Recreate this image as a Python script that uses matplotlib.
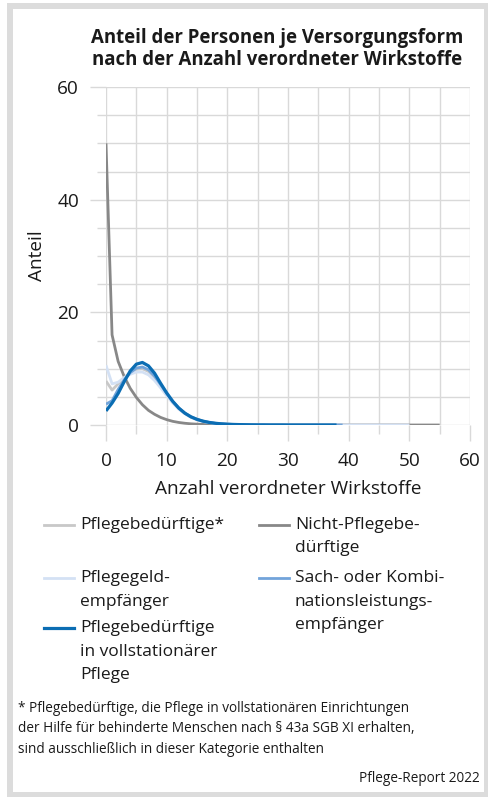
import matplotlib
matplotlib.use("Agg")
import matplotlib.pyplot as plt
from matplotlib.lines import Line2D
from matplotlib.patches import Rectangle
from matplotlib.ticker import MultipleLocator

plt.rcParams['font.family'] = ['Open Sans', 'DejaVu Sans']

# Anteil (%) je Anzahl verordneter Wirkstoffe, x = 0, 1, 2, ...
nicht_pflegebed = [50.0, 16.0, 11.3, 8.6, 6.5, 4.9, 3.6, 2.6, 1.9, 1.35,
                   0.95, 0.65, 0.45, 0.31, 0.21, 0.15, 0.10, 0.07, 0.05, 0.04,
                   0.03, 0.02, 0.02, 0.01, 0.01, 0.01, 0.01, 0.0, 0.0, 0.0,
                   0.0, 0.0, 0.0, 0.0, 0.0, 0.0, 0.0, 0.0, 0.0, 0.0,
                   0.0, 0.0, 0.0, 0.0, 0.0, 0.0, 0.0, 0.0, 0.0, 0.0,
                   0.0, 0.0, 0.0, 0.0, 0.0, 0.0]
pflegebed = [7.8, 6.2, 7.3, 8.4, 9.3, 9.9, 10.0, 9.5, 8.4, 7.0,
             5.5, 4.1, 3.0, 2.1, 1.45, 1.0, 0.68, 0.46, 0.31, 0.21,
             0.15, 0.10, 0.07, 0.05, 0.03, 0.02, 0.02, 0.01, 0.01, 0.01,
             0.0, 0.0, 0.0, 0.0, 0.0, 0.0, 0.0, 0.0, 0.0, 0.0,
             0.0, 0.0, 0.0, 0.0, 0.0, 0.0, 0.0, 0.0, 0.0, 0.0, 0.0]
pflegegeld = [10.6, 7.3, 7.6, 8.4, 9.0, 9.4, 9.4, 8.9, 7.9, 6.6,
              5.2, 3.9, 2.8, 2.0, 1.35, 0.92, 0.62, 0.42, 0.28, 0.19,
              0.13, 0.09, 0.06, 0.04, 0.03, 0.02, 0.01, 0.01, 0.01, 0.0,
              0.0, 0.0, 0.0, 0.0, 0.0, 0.0, 0.0, 0.0, 0.0, 0.0,
              0.0, 0.0, 0.0, 0.0, 0.0, 0.0, 0.0, 0.0, 0.0, 0.0, 0.0]
sach_kombi = [3.7, 4.3, 6.3, 8.0, 9.3, 10.1, 10.3, 9.8, 8.7, 7.2,
              5.6, 4.2, 3.0, 2.1, 1.45, 1.0, 0.67, 0.45, 0.30, 0.20,
              0.14, 0.10, 0.07, 0.05, 0.03, 0.02, 0.02, 0.01, 0.01, 0.01,
              0.0, 0.0, 0.0, 0.0, 0.0, 0.0, 0.0, 0.0, 0.0, 0.0]
vollstationaer = [2.5, 3.9, 5.6, 7.7, 9.6, 10.8, 11.1, 10.5, 9.2, 7.4,
                  5.7, 4.2, 3.0, 2.1, 1.45, 1.0, 0.68, 0.46, 0.31, 0.21,
                  0.14, 0.10, 0.07, 0.05, 0.03, 0.02, 0.02, 0.01, 0.01, 0.01,
                  0.0, 0.0, 0.0, 0.0, 0.0, 0.0, 0.0, 0.0, 0.0]

series = [
    ("Nicht-Pflegebe-\ndürftige", nicht_pflegebed, "#888888", 2.0),
    ("Pflegebedürftige*", pflegebed, "#c8c8c8", 2.0),
    ("Pflegegeld-\nempfänger", pflegegeld, "#d4e1f4", 2.0),
    ("Sach- oder Kombi-\nnationsleistungs-\nempfänger", sach_kombi, "#72a4da", 2.0),
    ("Pflegebedürftige\nin vollstationärer\nPflege", vollstationaer, "#0b6db3", 2.3),
]

grid_col = "#d9d9d9"
txt_col = "#1a1a1a"
W, H = 488, 797

fig = plt.figure(figsize=(W / 100, H / 100), dpi=100)
fig.patch.set_facecolor("white")

# grauer Rahmen
fig.add_artist(Rectangle((9.5 / W, 2 / H), 477.5 / W, 789 / H,
                         transform=fig.transFigure, fill=False,
                         edgecolor="#dcdcdc", linewidth=4.3))

ax = fig.add_axes([106 / W, (H - 425) / H, 364 / W, 338 / H])
for name, vals, col, lw in series:
    ax.plot(range(len(vals)), vals, color=col, lw=lw, solid_capstyle="butt",
            zorder=3)

ax.set_xlim(0, 60)
ax.set_ylim(0, 60)
ax.xaxis.set_major_locator(MultipleLocator(10))
ax.xaxis.set_minor_locator(MultipleLocator(5))
ax.yaxis.set_major_locator(MultipleLocator(20))
ax.yaxis.set_minor_locator(MultipleLocator(5))
ax.grid(True, which="both", color=grid_col, lw=1.0, zorder=0)
for s in ax.spines.values():
    s.set_visible(False)
ax.tick_params(which="major", length=11.5, width=1.0, color=grid_col,
               labelsize=13.7, pad=8, labelcolor=txt_col)
ax.tick_params(which="minor", length=6.5, width=1.0, color=grid_col)
ax.set_xlabel("Anzahl verordneter Wirkstoffe", fontsize=13.7, color=txt_col,
              labelpad=7)
ax.set_ylabel("Anteil", fontsize=13.7, color=txt_col, labelpad=8)

fig.text(277 / W, 1 - 49 / H,
         "Anteil der Personen je Versorgungsform\nnach der Anzahl verordneter Wirkstoffe",
         ha="center", va="center", fontsize=13.4, fontweight="bold",
         color=txt_col, linespacing=1.1)

# Legende: zwei Spalten
legend_order = [1, 2, 4, 0, 3]
slots = [(44, 525), (44, 578), (44, 628), (259, 525), (259, 578)]
for idx, (lx, ly) in zip(legend_order, slots):
    name, vals, col, lw = series[idx]
    fig.add_artist(Line2D([lx / W, (lx + 30) / W], [1 - ly / H, 1 - ly / H],
                          color=col, lw=lw, transform=fig.transFigure))
    for k, line in enumerate(name.split("\n")):
        fig.text((lx + 36) / W, 1 - (ly + k * 23.5) / H, line,
                 ha="left", va="center", fontsize=12.5, color=txt_col)

fig.text(18 / W, 1 - 701 / H,
         "* Pflegebedürftige, die Pflege in vollstationären Einrichtungen\n"
         "der Hilfe für behinderte Menschen nach § 43a SGB XI erhalten,\n"
         "sind ausschließlich in dieser Kategorie enthalten",
         ha="left", va="top", fontsize=9.8, color=txt_col, linespacing=1.5)
fig.text(480 / W, 1 - 779 / H, "Pflege-Report 2022", ha="right", va="center",
         fontsize=9.8, color=txt_col)

fig.savefig("out.png", dpi=100)
